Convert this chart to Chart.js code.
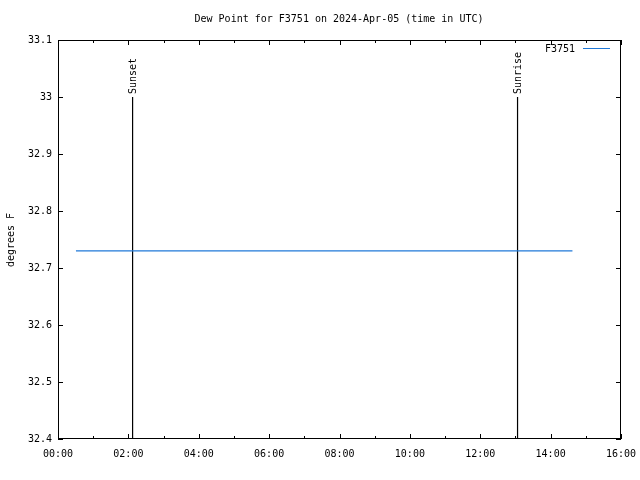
<!DOCTYPE html>
<html lang="en">
<head>
<meta charset="UTF-8">
<title>Dew Point F3751</title>
<script src="https://cdn.jsdelivr.net/npm/chart.js"></script>
<style>
  body { margin: 0; background: #fff; }
  canvas { display: block; }
</style>
</head>
<body>
<canvas id="myChart" width="640" height="480"></canvas>
<script>
// data (time in hours UTC)
var station = 'F3751'
var horas = [0.51, 14.62]
var pontoOrvalho = [32.73, 32.73]
var eventos = ['Sunset', 'Sunrise']
var horasEventos = [2.12, 13.06]
var yMin = 32.4, yMax = 33.1, yEvento = 33.0
var xMin = 0, xMax = 16

var fonte = '10px "DejaVu Sans Mono", monospace'
var azul = '#1f78d8'

var pontos = []
for (var i = 0; i < horas.length; i++) {
    pontos.push({ x: horas[i], y: pontoOrvalho[i] })
}

var datasets = [{
    label: station,
    data: pontos,
    showLine: true,
    borderColor: azul,
    borderWidth: 1.2,
    pointRadius: 0
}]
for (var j = 0; j < eventos.length; j++) {
    datasets.push({
        label: eventos[j],
        data: [{ x: horasEventos[j], y: yMin }, { x: horasEventos[j], y: yEvento }],
        showLine: true,
        borderColor: '#000',
        borderWidth: 1.2,
        pointRadius: 0
    })
}

function fmtHora(v) {
    var h = Math.round(v)
    return (h < 10 ? '0' : '') + h + ':00'
}

var molduraGnuplot = {
    id: 'molduraGnuplot',
    afterDraw: function (chart) {
        var ctx = chart.ctx
        var a = chart.chartArea
        var sx = chart.scales.x, sy = chart.scales.y
        ctx.save()
        ctx.strokeStyle = '#000'
        ctx.lineWidth = 1
        ctx.strokeRect(Math.round(a.left) + 0.5, Math.round(a.top) + 0.5,
            Math.round(a.right - a.left) - 1, Math.round(a.bottom - a.top) - 1)

        // ticks para dentro
        ctx.beginPath()
        sx.ticks.forEach(function (t) {
            var px = Math.round(sx.getPixelForValue(t.value)) + 0.5
            var len = (Math.round(t.value) % 2 === 0) ? 5 : 3
            ctx.moveTo(px, a.bottom); ctx.lineTo(px, a.bottom - len)
            ctx.moveTo(px, a.top); ctx.lineTo(px, a.top + len)
        })
        sy.ticks.forEach(function (t) {
            var py = Math.round(sy.getPixelForValue(t.value)) + 0.5
            ctx.moveTo(a.left, py); ctx.lineTo(a.left + 5, py)
            ctx.moveTo(a.right, py); ctx.lineTo(a.right - 5, py)
        })
        ctx.stroke()

        ctx.fillStyle = '#000'
        ctx.font = fonte
        // titulo
        ctx.textAlign = 'center'
        ctx.textBaseline = 'middle'
        ctx.fillText('Dew Point for ' + station + ' on 2024-Apr-05 (time in UTC)', 339, 19)

        // titulo eixo y
        ctx.save()
        ctx.translate(11, 240)
        ctx.rotate(-Math.PI / 2)
        ctx.fillText('degrees F', 0, 0)
        ctx.restore()

        // rotulos sunset / sunrise
        for (var k = 0; k < eventos.length; k++) {
            var ex = Math.round(sx.getPixelForValue(horasEventos[k])) + 0.5
            var ey = sy.getPixelForValue(yEvento)
            ctx.save()
            ctx.translate(ex, ey - 3)
            ctx.rotate(-Math.PI / 2)
            ctx.textAlign = 'left'
            ctx.fillText(eventos[k], 0, 0)
            ctx.restore()
        }

        // legenda
        ctx.textAlign = 'right'
        ctx.fillText(station, 575, 49)
        ctx.strokeStyle = azul
        ctx.beginPath()
        ctx.moveTo(583, 48.5); ctx.lineTo(610, 48.5)
        ctx.stroke()
        ctx.restore()
    }
}

const grafico = document.getElementById('myChart')
new Chart(grafico, {
    type: 'scatter',
    data: { datasets: datasets },
    options: {
        responsive: false,
        animation: false,
        layout: { padding: { top: 40, right: 19, left: 0, bottom: 0 } },
        scales: {
            x: {
                type: 'linear',
                min: xMin,
                max: xMax,
                grid: { display: false, drawTicks: false },
                border: { display: false },
                afterFit: function (s) { s.height = 41; s.paddingLeft = 0; s.paddingRight = 0 },
                ticks: {
                    stepSize: 1,
                    autoSkip: false,
                    maxRotation: 0,
                    padding: 9,
                    color: '#000',
                    font: { family: '"DejaVu Sans Mono", monospace', size: 10 },
                    callback: function (v) { return (Math.round(v) % 2 === 0) ? fmtHora(v) : '' }
                }
            },
            y: {
                min: yMin,
                max: yMax,
                grid: { display: false, drawTicks: false },
                border: { display: false },
                afterFit: function (s) { s.width = 58; s.paddingTop = 0; s.paddingBottom = 0 },
                ticks: {
                    stepSize: 0.1,
                    padding: 6,
                    color: '#000',
                    font: { family: '"DejaVu Sans Mono", monospace', size: 10 },
                    callback: function (v) { return String(+v.toFixed(1)) }
                }
            }
        },
        plugins: {
            legend: { display: false },
            tooltip: { enabled: false }
        }
    },
    plugins: [molduraGnuplot]
})
</script>
</body>
</html>
